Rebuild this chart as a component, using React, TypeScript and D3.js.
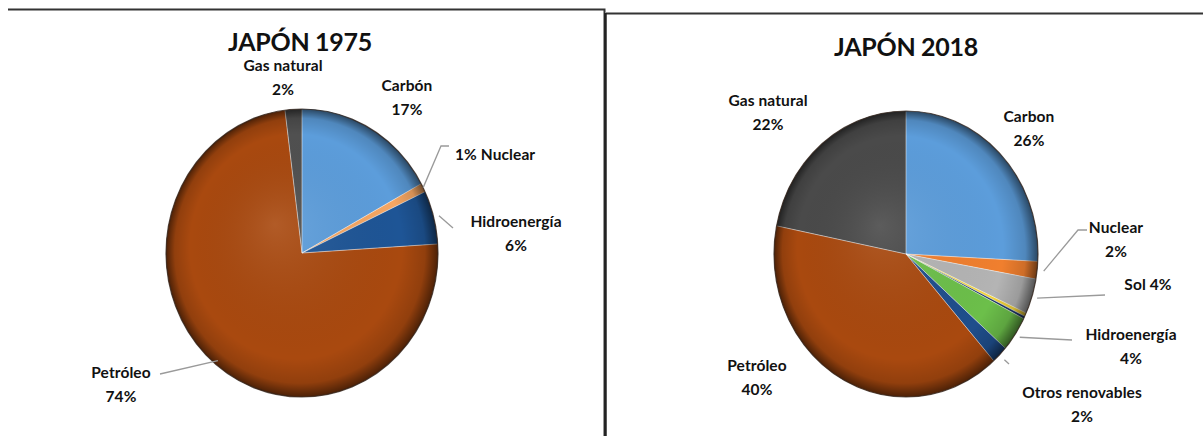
import React from "react";
import * as d3 from "d3";

// Japan primary energy mix, 1975
const sources1975 = ["Carbón", "Nuclear", "Hidroenergía", "Petróleo", "Gas natural"];
const values1975 = [17, 1, 6, 74, 2];
const colors1975 = ["#5C9DDB", "#F5A663", "#1E5596", "#A9490F", "#505050"];

// Japan primary energy mix, 2018 (two thin unlabeled slivers between Sol and Hidroenergía)
const sources2018 = [
  "Carbon",
  "Nuclear",
  "Sol",
  "Eólica",
  "Geotermia",
  "Hidroenergía",
  "Otros renovables",
  "Petróleo",
  "Gas natural",
];
const values2018 = [26, 2, 4, 0.4, 0.3, 4, 2, 40, 22];
const colors2018 = [
  "#5C9DDB",
  "#F07F2E",
  "#B4B4B4",
  "#F2D33A",
  "#1F3A6B",
  "#6CBF4A",
  "#1F4E8C",
  "#A9490F",
  "#4A4A4A",
];

type LabelSpec = {
  name: string;
  x: number;
  y: number;
  format: "stack" | "pctFirst" | "pctLast";
  anchor?: "start" | "middle" | "end";
};

type LeaderSpec = {
  name: string;
  k: number;
  points: [number, number][];
};

const labels1975: LabelSpec[] = [
  { name: "Gas natural", x: 283, y: 71, format: "stack" },
  { name: "Carbón", x: 407, y: 91, format: "stack" },
  { name: "Nuclear", x: 455, y: 160, format: "pctFirst", anchor: "start" },
  { name: "Hidroenergía", x: 516, y: 227, format: "stack" },
  { name: "Petróleo", x: 121, y: 378, format: "stack" },
];

const leaders1975: LeaderSpec[] = [
  { name: "Nuclear", k: 1.0, points: [[441, 146], [449, 146]] },
  { name: "Hidroenergía", k: 1.04, points: [[453, 228]] },
  { name: "Petróleo", k: 0.97, points: [[160, 374]] },
];

const labels2018: LabelSpec[] = [
  { name: "Gas natural", x: 768, y: 106, format: "stack" },
  { name: "Carbon", x: 1029, y: 122, format: "stack" },
  { name: "Nuclear", x: 1116, y: 233, format: "stack" },
  { name: "Sol", x: 1148, y: 290, format: "pctLast" },
  { name: "Hidroenergía", x: 1131, y: 340, format: "stack" },
  { name: "Otros renovables", x: 1082, y: 398, format: "stack" },
  { name: "Petróleo", x: 757, y: 371, format: "stack" },
];

const leaders2018: LeaderSpec[] = [
  { name: "Nuclear", k: 1.05, points: [[1078, 230], [1087, 230]] },
  { name: "Sol", k: 1.04, points: [[1105, 295]] },
  { name: "Hidroenergía", k: 1.04, points: [[1072, 340]] },
  { name: "Otros renovables", k: 1.05, points: [[1009, 364]] },
];

const R = 100;
const FONT = "Lato, 'Open Sans', sans-serif";

type PieProps = {
  id: string;
  title: string;
  titleX: number;
  titleY: number;
  cx: number;
  cy: number;
  rx: number;
  ry: number;
  names: string[];
  values: number[];
  colors: string[];
  labels: LabelSpec[];
  leaders: LeaderSpec[];
};

function EnergyPie(p: PieProps) {
  const pie = d3
    .pie<number>()
    .sort(null)
    .value((d) => d)
    .startAngle(0)
    .endAngle(2 * Math.PI);
  const arcs = pie(p.values);
  const arc = d3.arc<d3.PieArcDatum<number>>().innerRadius(0).outerRadius(R);

  const midAngle = (name: string) => {
    const i = p.names.indexOf(name);
    const a = arcs[i];
    return (a.startAngle + a.endAngle) / 2;
  };
  const edgePoint = (name: string, k: number): [number, number] => {
    const a = midAngle(name);
    return [p.cx + p.rx * k * Math.sin(a), p.cy - p.ry * k * Math.cos(a)];
  };

  const line = d3.line();

  return (
    <g>
      <defs>
        <radialGradient id={`shade-${p.id}`} gradientUnits="userSpaceOnUse" cx={0} cy={0} r={R} fx={-20} fy={-20}>
          <stop offset="0%" stopColor="#fff" stopOpacity={0.1} />
          <stop offset="78%" stopColor="#000" stopOpacity={0} />
          <stop offset="92%" stopColor="#000" stopOpacity={0.14} />
          <stop offset="100%" stopColor="#000" stopOpacity={0.55} />
        </radialGradient>
      </defs>
      <text
        x={p.titleX}
        y={p.titleY}
        textAnchor="middle"
        fontFamily={FONT}
        fontWeight={700}
        fontSize={25}
        letterSpacing={-0.3}
        fill="#111"
      >
        {p.title}
      </text>
      <g transform={`translate(${p.cx},${p.cy}) scale(${p.rx / R},${p.ry / R})`}>
        {arcs.map((a, i) => (
          <path key={p.names[i]} d={arc(a) || ""} fill={p.colors[i]} />
        ))}
        {arcs.map((a, i) => (
          <path
            key={`sep-${p.names[i]}`}
            d={arc(a) || ""}
            fill="none"
            stroke="#ffffff"
            strokeOpacity={0.35}
            strokeWidth={0.8}
            vectorEffect="non-scaling-stroke"
          />
        ))}
        <circle r={R} fill={`url(#shade-${p.id})`} />
        <circle
          r={R}
          fill="none"
          stroke="#2a1a10"
          strokeOpacity={0.75}
          strokeWidth={1.2}
          vectorEffect="non-scaling-stroke"
        />
      </g>
      {p.leaders.map((l) => {
        const pts: [number, number][] = [edgePoint(l.name, l.k), ...l.points];
        return (
          <path
            key={`lead-${l.name}`}
            d={line(pts) || ""}
            fill="none"
            stroke="#9a9a9a"
            strokeWidth={1.3}
          />
        );
      })}
      {p.labels.map((lab) => {
        const i = p.names.indexOf(lab.name);
        const pct = `${p.values[i]}%`;
        const common = {
          fontFamily: FONT,
          fontWeight: 700,
          fontSize: 15.5,
          fill: "#111",
          letterSpacing: 0.1,
        } as const;
        if (lab.format === "stack") {
          return (
            <text key={`lab-${lab.name}`} x={lab.x} y={lab.y} textAnchor={lab.anchor || "middle"} {...common}>
              <tspan x={lab.x}>{lab.name}</tspan>
              <tspan x={lab.x} dy={23.5}>
                {pct}
              </tspan>
            </text>
          );
        }
        const txt = lab.format === "pctFirst" ? `${pct} ${lab.name}` : `${lab.name} ${pct}`;
        return (
          <text key={`lab-${lab.name}`} x={lab.x} y={lab.y} textAnchor={lab.anchor || "middle"} {...common}>
            {txt}
          </text>
        );
      })}
    </g>
  );
}

export default function App() {
  return (
    <svg
      width={1203}
      height={436}
      viewBox="0 0 1203 436"
      style={{ position: "absolute", left: 0, top: 0, background: "#fff" }}
    >
      <rect width={1203} height={436} fill="#fff" />
      {/* panel frames */}
      <path d="M8,9.5 H604.5 V436" fill="none" stroke="#333" strokeWidth={2} />
      <path d="M606,13.5 H1203" fill="none" stroke="#333" strokeWidth={2} />
      <path d="M605.5,13 V436" fill="none" stroke="#222" strokeWidth={2.5} />
      <EnergyPie
        id="p1975"
        title="JAPÓN 1975"
        titleX={300}
        titleY={51}
        cx={302}
        cy={253}
        rx={136}
        ry={144}
        names={sources1975}
        values={values1975}
        colors={colors1975}
        labels={labels1975}
        leaders={leaders1975}
      />
      <EnergyPie
        id="p2018"
        title="JAPÓN 2018"
        titleX={906}
        titleY={56}
        cx={906}
        cy={254}
        rx={132}
        ry={143}
        names={sources2018}
        values={values2018}
        colors={colors2018}
        labels={labels2018}
        leaders={leaders2018}
      />
    </svg>
  );
}
